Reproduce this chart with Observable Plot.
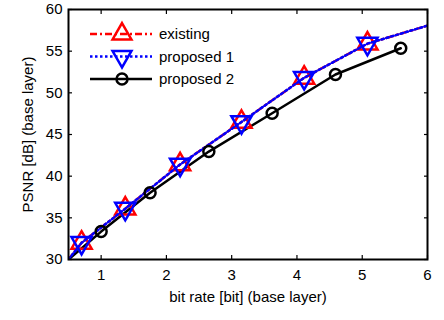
<!DOCTYPE html>
<html><head><meta charset="utf-8">
<script src="https://cdn.jsdelivr.net/npm/d3@7"></script>
<script src="https://cdn.jsdelivr.net/npm/@observablehq/plot@0.6"></script>
<style>body{margin:0;background:#fff}</style>
</head><body><div id="chart"></div>
<script>
const seriesNames = ["existing", "proposed 1", "proposed 2"];
// existing and proposed 1 share the same points
const existingX = [0.5, 0.7, 1.37, 2.21, 3.15, 4.11, 5.08, 6.1];
const existingY = [30.0, 32.0, 36.1, 41.4, 46.5, 51.8, 55.9, 58.3];
const proposed1X = [0.5, 0.7, 1.37, 2.21, 3.15, 4.11, 5.08, 6.1];
const proposed1Y = [30.0, 32.0, 36.1, 41.4, 46.5, 51.8, 55.9, 58.3];
const proposed2X = [0.5, 1.0, 1.75, 2.65, 3.62, 4.59, 5.59];
const proposed2Y = [30.0, 33.35, 38.0, 42.95, 47.55, 52.2, 55.35];
// first and last points of the dashed series only extend the curve (no marker)
const markerFlags1 = [false, true, true, true, true, true, true, false];
const markerFlags2 = [false, true, true, true, true, true, true];
const xTicks = [1, 2, 3, 4, 5, 6];
const yTicks = [30, 35, 40, 45, 50, 55, 60];

const colors = ["#ff0000", "#0000ff", "#000000"];
const dashes = ["7,3,2,3", "2.5,2.5", null];

const mk = (xs, ys, flags) => xs.map((x, i) => ({x, y: ys[i], m: flags[i]}));
const dExisting = mk(existingX, existingY, markerFlags1);
const dProp1 = mk(proposed1X, proposed1Y, markerFlags1);
const dProp2 = mk(proposed2X, proposed2Y, markerFlags2);

const font = "'Liberation Sans', Arial, sans-serif";

const chart = Plot.plot({
  width: 444, height: 320,
  marginLeft: 68, marginRight: 17, marginTop: 9, marginBottom: 61,
  style: {fontFamily: font, fontSize: "15px", background: "#fff", color: "#000"},
  x: {domain: [0.5, 6]},
  y: {domain: [30, 60]},
  marks: [
    Plot.lineY(dExisting, {x: "x", y: "y", stroke: colors[0], strokeWidth: 2.5, strokeDasharray: dashes[0], clip: true}),
    Plot.lineY(dProp2, {x: "x", y: "y", stroke: colors[2], strokeWidth: 2.5, clip: true}),
    Plot.dot(dExisting.filter(d => d.m), {x: "x", y: "y", symbol: "triangle", r: 7.5, stroke: colors[0], strokeWidth: 2.5, fill: "none"}),
    Plot.lineY(dProp1, {x: "x", y: "y", stroke: colors[1], strokeWidth: 2.5, strokeDasharray: dashes[1], clip: true}),
    Plot.dot(dProp1.filter(d => d.m), {x: "x", y: "y", symbol: "triangle", rotate: 180, r: 7.5, stroke: colors[1], strokeWidth: 2.5, fill: "none"}),
    Plot.dot(dProp2.filter(d => d.m), {x: "x", y: "y", symbol: "circle", r: 5.5, stroke: colors[2], strokeWidth: 2.5, fill: "none"}),
    Plot.axisX({ticks: xTicks, tickFormat: d3.format("d"), tickSize: 0, tickPadding: 10, fontSize: 15, label: "bit rate [bit] (base layer)", labelAnchor: "center", labelArrow: "none", labelOffset: 42}),
    Plot.axisX({ticks: xTicks, tickSize: -4, text: null, label: null, strokeWidth: 1.2}),
    Plot.axisX({anchor: "top", ticks: xTicks, tickSize: -4, text: null, label: null, strokeWidth: 1.2}),
    Plot.axisY({ticks: yTicks, tickFormat: d3.format("d"), tickSize: 0, tickPadding: 6, fontSize: 15, label: "PSNR [dB] (base layer)", labelAnchor: "center", labelArrow: "none", labelOffset: 46}),
    Plot.axisY({ticks: yTicks, tickSize: -4, text: null, label: null, strokeWidth: 1.2}),
    Plot.axisY({anchor: "right", ticks: yTicks, tickSize: -4, text: null, label: null, strokeWidth: 1.2}),
    Plot.frame({stroke: "#000", strokeWidth: 2})
  ]
});
document.getElementById("chart").appendChild(chart);

// legend inside the plot, top-left
const svg = d3.select(chart);
const lg = svg.append("g").attr("transform", "translate(90,34)");
const symbols = [d3.symbolTriangle, d3.symbolTriangle, d3.symbolCircle];
seriesNames.forEach((name, i) => {
  const g = lg.append("g").attr("transform", `translate(0,${i * 22.5})`);
  g.append("line").attr("x1", 0).attr("x2", 62).attr("y1", 0).attr("y2", 0)
    .attr("stroke", colors[i]).attr("stroke-width", 2.5)
    .attr("stroke-dasharray", dashes[i]);
  const r = i === 2 ? 5.5 : 7;
  g.append("path").attr("d", d3.symbol(symbols[i], Math.PI * r * r)())
    .attr("transform", `translate(32,0) rotate(${i === 1 ? 180 : 0})`)
    .attr("fill", "none").attr("stroke", colors[i]).attr("stroke-width", 2.5);
  g.append("text").attr("x", 69).attr("y", 0).attr("dy", "0.35em")
    .attr("text-anchor", "start")
    .attr("font-size", 15).attr("font-family", font).attr("fill", "#000").text(name);
});
</script>
</body></html>
